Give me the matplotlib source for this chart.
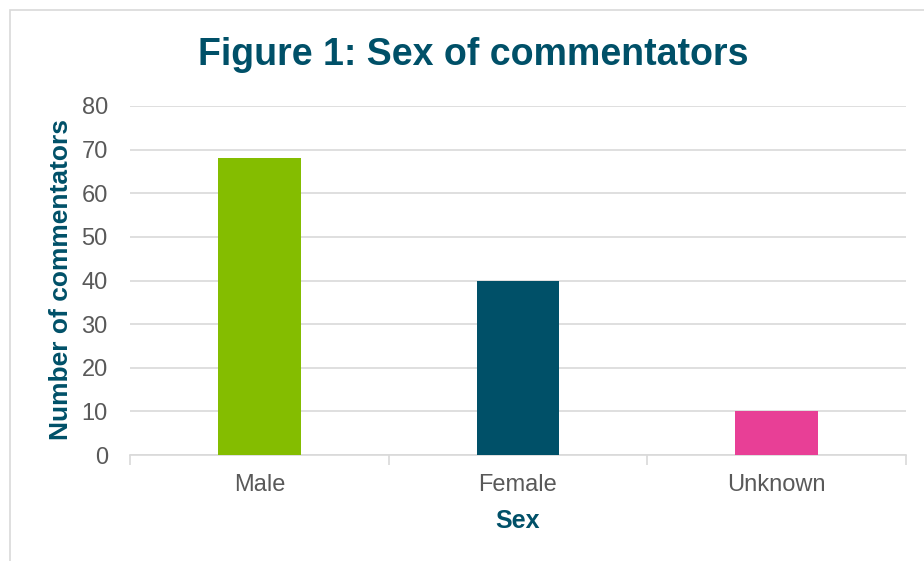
import matplotlib.pyplot as plt
from matplotlib.patches import Rectangle

categories = ['Male', 'Female', 'Unknown']
counts = [68, 40, 10]
barColors = ['#84BD00', '#005068', '#E83F96']
yTicks = [0, 10, 20, 30, 40, 50, 60, 70, 80]

plt.rcParams['font.family'] = ['Liberation Sans', 'DejaVu Sans']

W, H = 924, 561
fig = plt.figure(figsize=(W / 100, H / 100), dpi=100)

# outer frame, only left and top edges are in view
fig.patches.append(Rectangle((10 / W, -0.1), 1.2, 1 - 10 / H + 0.1,
                             transform=fig.transFigure, fill=False,
                             edgecolor='#D9D9D9', linewidth=1.2))

ax = fig.add_axes([130 / W, 1 - 455 / H, (906 - 130) / W, (455 - 106) / H])
x = range(len(categories))
ax.bar(x, counts, width=0.32, color=barColors, zorder=3)

ax.set_xlim(-0.5, len(categories) - 0.5)
ax.set_ylim(0, 80)
ax.set_yticks(yTicks)
ax.set_xticks(list(x))
ax.set_xticklabels(categories)
ax.set_xticks([i - 0.5 for i in range(len(categories) + 1)], minor=True)

ax.yaxis.grid(True, color='#D9D9D9', linewidth=1.2, zorder=0)
for s in ['top', 'right', 'left']:
    ax.spines[s].set_visible(False)
ax.spines['bottom'].set_color('#D9D9D9')
ax.spines['bottom'].set_linewidth(1.2)

ax.tick_params(axis='y', length=0, labelsize=17, labelcolor='#595959', pad=16)
ax.tick_params(axis='x', which='major', length=0, labelsize=17,
               labelcolor='#595959', pad=14)
ax.tick_params(axis='x', which='minor', length=7, color='#D9D9D9', width=1.2)

ax.set_xlabel('Sex', fontsize=18, fontweight='bold', color='#005068', labelpad=9)
fig.text(61 / W, 1 - 280 / H, 'Number of commentators', rotation=90,
         ha='center', va='center', fontsize=19, fontweight='bold', color='#005068')
fig.text(473 / W, 1 - 55 / H, 'Figure 1: Sex of commentators', ha='center',
         va='center', fontsize=27, fontweight='bold', color='#005068')

fig.savefig('out.png', dpi=100)
